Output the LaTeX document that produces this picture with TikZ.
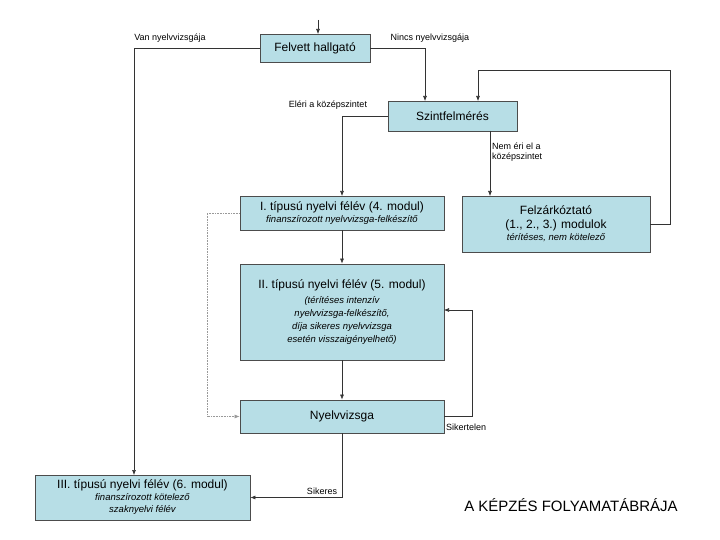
\documentclass[tikz,border=0pt]{standalone}
\usepackage{fontspec}
\setmainfont{Liberation Sans}
\usetikzlibrary{arrows.meta}
\definecolor{boxc}{HTML}{B7DEE6}
\newcommand{\subt}{\itshape\fontsize{9.5}{11.5}\selectfont}
\begin{document}
\begin{tikzpicture}[x=1pt,y=-1pt,
 box/.style={draw=black!70,fill=boxc,line width=0.8pt,align=center,inner sep=0pt,font=\fontsize{12}{14}\selectfont},
 lab/.style={font=\fontsize{9}{10.5}\selectfont,inner sep=1pt},
 arr/.style={-{Latex[length=5pt,width=4pt]},line width=0.6pt,black!80}]
\useasboundingbox (0,0) rectangle (720,540);
\node[box,minimum width=110,minimum height=28] (felv) at (315,48) {Felvett hallgató};
\node[box,minimum width=129,minimum height=30] (szint) at (452.5,116) {Szintfelmérés};
\node[box,minimum width=204,minimum height=34] (i) at (342,213) {I. típusú nyelvi félév (4. modul)\\[-2pt]{\subt finanszírozott nyelvvizsga-felkészítő}};
\node[box,minimum width=188,minimum height=56] (felz) at (556,224) {Felzárkóztató\\(1., 2., 3.) modulok\\[-2pt]{\subt térítéses, nem kötelező}};
\node[box,minimum width=204,minimum height=96] (ii) at (342,312) {II. típusú nyelvi félév (5. modul)\\[1pt]{\subt (térítéses intenzív}\\[-1pt]{\subt nyelvvizsga-felkészítő,}\\[-1pt]{\subt díja sikeres nyelvvizsga}\\[-1pt]{\subt esetén visszaigényelhető)}};
\node[box,minimum width=204,minimum height=33] (ny) at (342,416.5) {Nyelvvizsga};
\node[box,minimum width=215,minimum height=45] (iii) at (142.5,497.5) {III. típusú nyelvi félév (6. modul)\\[-2pt]{\subt finanszírozott kötelező}\\[-2pt]{\subt szaknyelvi félév}};
\node[font=\fontsize{15}{17}\selectfont] (title) at (571,505) {A KÉPZÉS FOLYAMATÁBRÁJA};
\coordinate (start) at (318,20);
\draw[arr] (start) -- (318,34);
\draw[arr] (felv.west) -| (134,475);
\node[lab] (l1) at (170,38) {Van nyelvvizsgája};
\draw[arr] (felv.east) -| (425,101);
\node[lab] (l2) at (430,38) {Nincs nyelvvizsgája};
\draw[arr] (szint.west) -| (342,196);
\node[lab] (l3) at (328,105) {Eléri a középszintet};
\draw[arr] (490,131) -- (490,196);
\node[lab,align=left,anchor=west] (l4) at (491,152) {Nem éri el a\\középszintet};
\draw[arr] (felz.east) -- (670,224) -- (670,70) -- (478,70) -- (478,101);
\draw[arr] (i.south) -- (ii.north);
\draw[arr] (ii.south) -- (ny.north);
\draw[arr] (ny.east) -- (472,416.5) -- (472,310) -- (444,310);
\node[lab,anchor=north west] (l5) at (445,423) {Sikertelen};
\draw[arr,black!40,densely dotted] (i.west) -- (207,213) -- (207,416.5) -- (ny.west);
\draw[arr] (ny.south) |- (iii.east);
\node[lab] (l6) at (322,491) {Sikeres};
\end{tikzpicture}
\end{document}
